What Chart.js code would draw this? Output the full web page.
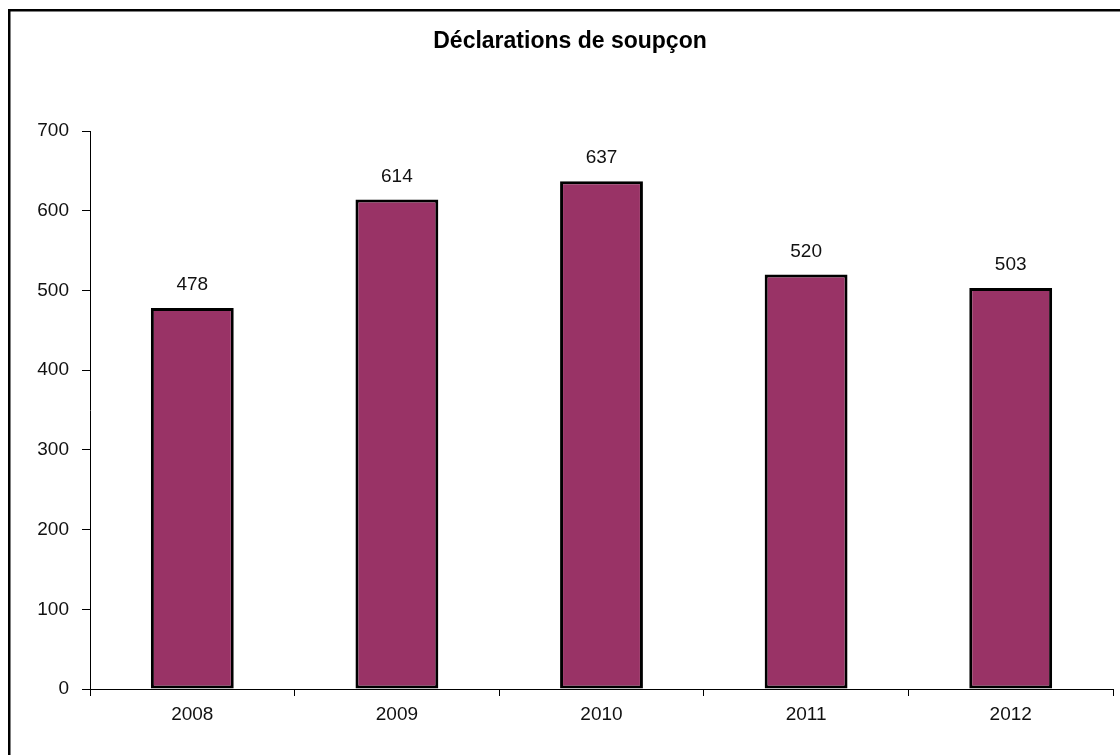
<!DOCTYPE html>
<html>
<head>
<meta charset="utf-8">
<script src="https://cdn.jsdelivr.net/npm/chart.js@4/dist/chart.umd.min.js"></script>
<style>
  html, body { margin: 0; padding: 0; background: #fff; }
  canvas { display: block; }
</style>
</head>
<body>
<canvas id="c" width="1120" height="755"></canvas>
<script>
const categories = ['2008', '2009', '2010', '2011', '2012'];
const values = [478, 614, 637, 520, 503];
const yTicks = [0, 100, 200, 300, 400, 500, 600, 700];
const chartTitle = 'Déclarations de soupçon';

const FONT = "'Liberation Sans', Arial, sans-serif";

const framePlugin = {
  id: 'frame',
  afterDraw(chart) {
    const ctx = chart.ctx;
    ctx.save();
    ctx.fillStyle = '#000';
    ctx.fillRect(8, 9, chart.width, 2.5);
    ctx.fillRect(8, 9, 2.5, chart.height);
    // title
    ctx.font = 'bold 23px ' + FONT;
    ctx.fillStyle = '#000';
    ctx.textAlign = 'center';
    ctx.textBaseline = 'alphabetic';
    ctx.fillText(chartTitle, 570, 48);
    ctx.restore();
  }
};

const valueLabels = {
  id: 'valueLabels',
  afterDatasetsDraw(chart) {
    const ctx = chart.ctx;
    const meta = chart.getDatasetMeta(0);
    ctx.save();
    ctx.font = '19px ' + FONT;
    ctx.fillStyle = '#111';
    ctx.textAlign = 'center';
    ctx.textBaseline = 'middle';
    meta.data.forEach((bar, i) => {
      ctx.fillText(String(chart.data.datasets[0].data[i]), bar.x, bar.y - 23);
    });
    ctx.restore();
  }
};

new Chart(document.getElementById('c'), {
  type: 'bar',
  data: {
    labels: categories,
    datasets: [{
      data: values,
      backgroundColor: '#993366',
      borderColor: '#000',
      borderWidth: 3,
      borderSkipped: false,
      barPercentage: 0.405,
      categoryPercentage: 1
    }]
  },
  options: {
    responsive: false,
    animation: false,
    devicePixelRatio: 1,
    layout: { padding: { top: 131, left: 0, right: 7, bottom: 0 } },
    plugins: {
      legend: { display: false },
      tooltip: { enabled: false },
      title: { display: false }
    },
    scales: {
      x: {
        grid: { display: true, drawOnChartArea: false, drawTicks: true, tickLength: 7, color: '#000', offset: true },
        border: { display: true, color: '#000', width: 1 },
        ticks: { color: '#111', font: { family: FONT, size: 19 }, padding: 7, maxRotation: 0 },
        afterFit(scale) { scale.height = 66; }
      },
      y: {
        min: 0,
        max: 700,
        afterBuildTicks(scale) { scale.ticks = yTicks.map(v => ({ value: v })); },
        grid: { display: true, drawOnChartArea: false, drawTicks: true, tickLength: 8, color: '#000' },
        border: { display: true, color: '#000', width: 1 },
        ticks: { color: '#111', font: { family: FONT, size: 19 }, padding: 13 },
        afterFit(scale) { scale.width = 90; }
      }
    }
  },
  plugins: [framePlugin, valueLabels]
});
</script>
</body>
</html>
